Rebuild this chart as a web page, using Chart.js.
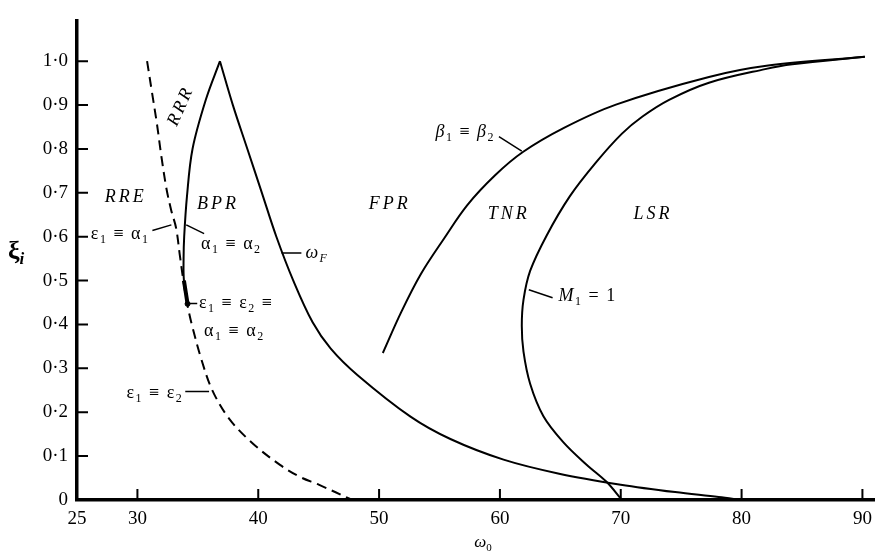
<!DOCTYPE html>
<html>
<head>
<meta charset="utf-8">
<script src="https://cdn.jsdelivr.net/npm/chart.js@4.4.1/dist/chart.umd.min.js"></script>
<style>
  html, body { margin: 0; padding: 0; background: #fff; }
  canvas { display: block; }
</style>
</head>
<body>
<canvas id="regime-chart" width="880" height="553"></canvas>
<script>
// tick values
const xTicks = [25, 30, 40, 50, 60, 70, 80, 90];
const yTicks = [0, 0.1, 0.2, 0.3, 0.4, 0.5, 0.6, 0.7, 0.8, 0.9, 1.0];

// boundary curves, [omega0, xi]
const epsEps = [[30.8, 1.0], [31.2, 0.93], [31.6, 0.86], [32.0, 0.78], [32.4, 0.71], [32.8, 0.66],
  [33.2, 0.62], [33.5, 0.56], [33.8, 0.5], [34.1, 0.45], [34.5, 0.4], [35.3, 0.32], [36.2, 0.25],
  [37.6, 0.185], [39.5, 0.13], [41.8, 0.08], [43.5, 0.052], [45.0, 0.035], [47.8, 0.0]];
const alphaAlpha = [[36.83, 1.0], [35.66, 0.912], [34.56, 0.8], [34.1, 0.692], [33.87, 0.6],
  [33.82, 0.55], [33.85, 0.5], [34.15, 0.447]];
const omegaF = [[36.83, 1.0], [37.9, 0.9], [39.1, 0.8], [40.3, 0.7], [41.5, 0.6], [42.9, 0.5],
  [44.5, 0.405], [46.0, 0.345], [48.2, 0.285], [52.6, 0.19], [55.9, 0.139], [60.3, 0.092],
  [64.9, 0.06], [70.0, 0.035], [74.5, 0.018], [78.1, 0.007], [80.0, 0.0]];
const betaBeta = [[50.31, 0.335], [51.81, 0.427], [53.46, 0.515], [55.38, 0.596], [57.3, 0.672],
  [59.6, 0.74], [61.9, 0.793], [65.3, 0.848], [69.6, 0.901], [77.3, 0.964], [82.2, 0.99], [90.2, 1.01]];
const machOne = [[90.2, 1.01], [84.2, 0.993], [81.95, 0.982], [77.3, 0.951], [74.0, 0.912],
  [71.8, 0.874], [70.1, 0.835], [67.97, 0.77], [65.78, 0.692], [63.87, 0.603], [62.5, 0.522],
  [61.95, 0.456], [61.81, 0.397], [61.95, 0.338], [62.5, 0.265], [63.6, 0.191], [65.24, 0.132],
  [67.15, 0.081], [68.8, 0.042], [70.1, 0.0]];
const thickPart = [[33.85, 0.5], [34.15, 0.447]];
const triplePoint = [[34.15, 0.447]];

// region names and curve labels
const regionLabels = [
  { t: 'RRR', x: 33.6, y: 0.898, rot: -66 },
  { t: 'RRE', x: 29.03, y: 0.689 },
  { t: 'BPR', x: 36.67, y: 0.673 },
  { t: 'FPR', x: 50.88, y: 0.675 },
  { t: 'TNR', x: 60.74, y: 0.651 },
  { t: 'LSR', x: 72.66, y: 0.651 }
];
const curveLabels = [
  { p: [['ε'], ['1', 1], [' ≡ '], ['α'], ['1', 1]], x: 31.0, y: 0.605, align: 'right' },
  { p: [['α'], ['1', 1], [' ≡ '], ['α'], ['2', 1]], x: 35.27, y: 0.583 },
  { p: [['ω', 0, 1], ['F', 1, 1]], x: 43.9, y: 0.563 },
  { p: [['β', 0, 1], ['1', 1], [' ≡ '], ['β', 0, 1], ['2', 1]], x: 59.6, y: 0.837, align: 'right' },
  { p: [['M', 0, 1], ['1', 1], [' = 1']], x: 64.85, y: 0.464 },
  { p: [['ε'], ['1', 1], [' ≡ '], ['ε'], ['2', 1], [' ≡']], x: 35.1, y: 0.448 },
  { p: [['α'], ['1', 1], [' ≡ '], ['α'], ['2', 1]], x: 35.52, y: 0.384 },
  { p: [['ε'], ['1', 1], [' ≡ '], ['ε'], ['2', 1]], x: 33.8, y: 0.243, align: 'right' }
];
const leaders = [
  [31.24, 0.614, 32.81, 0.627], [34.04, 0.627, 35.52, 0.607], [41.93, 0.563, 43.57, 0.563],
  [59.92, 0.828, 61.81, 0.795], [62.39, 0.479, 64.36, 0.461], [34.3, 0.448, 34.95, 0.448],
  [33.96, 0.247, 35.93, 0.247]
];

const serif = '"Liberation Serif", "DejaVu Serif", serif';
const toXY = pts => pts.map(([x, y]) => ({ x, y }));

function line(ds, dash, width) {
  return {
    data: toXY(ds),
    showLine: true,
    borderColor: '#000',
    borderWidth: width || 2,
    borderDash: dash || [],
    pointRadius: 0,
    tension: 0.35,
    fill: false
  };
}

function rich(ctx, parts, x, y, align, size, weight) {
  const fontOf = (sub, it) => (it ? 'italic ' : '') + (weight || '') + ' ' +
    (sub ? Math.round(size * 0.65) : size) + 'px ' + serif;
  let w = 0;
  parts.forEach(([t, sub, it]) => { ctx.font = fontOf(sub, it); w += ctx.measureText(t).width; });
  let cx = align === 'right' ? x - w : align === 'center' ? x - w / 2 : x;
  ctx.textAlign = 'left';
  ctx.textBaseline = 'middle';
  parts.forEach(([t, sub, it]) => {
    ctx.font = fontOf(sub, it);
    ctx.fillText(t, cx, sub ? y + size * 0.3 : y);
    cx += ctx.measureText(t).width;
  });
}

const decor = {
  id: 'decor',
  afterDraw(chart) {
    const { ctx, chartArea: area, scales: { x, y } } = chart;
    ctx.save();
    ctx.strokeStyle = '#000';
    ctx.fillStyle = '#000';
    ctx.lineWidth = 2;
    // inward tick marks
    ctx.beginPath();
    xTicks.slice(1).forEach(v => {
      const px = x.getPixelForValue(v);
      ctx.moveTo(px, area.bottom); ctx.lineTo(px, area.bottom - 11);
    });
    yTicks.slice(1).forEach(v => {
      const py = y.getPixelForValue(v);
      ctx.moveTo(area.left, py); ctx.lineTo(area.left + 11, py);
    });
    ctx.stroke();
    // leader lines
    ctx.lineWidth = 1.5;
    ctx.beginPath();
    leaders.forEach(([x1, y1, x2, y2]) => {
      ctx.moveTo(x.getPixelForValue(x1), y.getPixelForValue(y1));
      ctx.lineTo(x.getPixelForValue(x2), y.getPixelForValue(y2));
    });
    ctx.stroke();
    // region names
    ctx.font = 'italic 18px ' + serif;
    ctx.letterSpacing = '3px';
    ctx.textAlign = 'center';
    ctx.textBaseline = 'middle';
    regionLabels.forEach(l => {
      ctx.save();
      ctx.translate(x.getPixelForValue(l.x), y.getPixelForValue(l.y));
      if (l.rot) ctx.rotate(l.rot * Math.PI / 180);
      ctx.fillText(l.t, 0, 0);
      ctx.restore();
    });
    ctx.letterSpacing = '1.5px';
    curveLabels.forEach(l => rich(ctx, l.p, x.getPixelForValue(l.x), y.getPixelForValue(l.y), l.align, 18));
    ctx.letterSpacing = '0px';
    // axis titles
    rich(ctx, [['ξ'], ['i', 1, 1]], area.left - 69, y.getPixelForValue(0.565), 'left', 26, 'bold');
    rich(ctx, [['ω', 0, 1], ['0', 1]], x.getPixelForValue(58.6), area.bottom + 43, 'center', 17);
    ctx.restore();
  }
};

new Chart(document.getElementById('regime-chart'), {
  type: 'scatter',
  data: {
    datasets: [
      line(epsEps, [10, 6]),
      line(alphaAlpha),
      line(omegaF),
      line(betaBeta),
      line(machOne),
      line(thickPart, [], 4),
      {
        data: toXY(triplePoint),
        pointRadius: 2.5,
        pointBackgroundColor: '#000',
        pointBorderColor: '#000',
        showLine: false
      }
    ]
  },
  options: {
    responsive: false,
    animation: false,
    devicePixelRatio: 1,
    layout: { padding: { top: 5, right: 0, left: 0, bottom: 0 } },
    plugins: { legend: { display: false }, tooltip: { enabled: false } },
    scales: {
      x: {
        type: 'linear',
        min: 25,
        max: 91,
        afterFit: s => { s.height = 53; },
        afterBuildTicks: s => { s.ticks = xTicks.map(v => ({ value: v })); },
        grid: { display: false, drawTicks: false },
        border: { display: true, color: '#000', width: 3.5 },
        ticks: { color: '#000', padding: 8, maxRotation: 0, autoSkip: false, font: { family: serif, size: 19 } }
      },
      y: {
        type: 'linear',
        min: 0,
        max: 1.093,
        afterFit: s => { s.width = 77; },
        afterBuildTicks: s => { s.ticks = yTicks.map(v => ({ value: v })); },
        grid: { display: false, drawTicks: false },
        border: { display: true, color: '#000', width: 3.5 },
        ticks: {
          color: '#000',
          padding: 9,
          autoSkip: false,
          font: { family: serif, size: 19 },
          callback: v => v === 0 ? '0' : v.toFixed(1).replace('.', '·')
        }
      }
    }
  },
  plugins: [decor]
});
</script>
</body>
</html>
